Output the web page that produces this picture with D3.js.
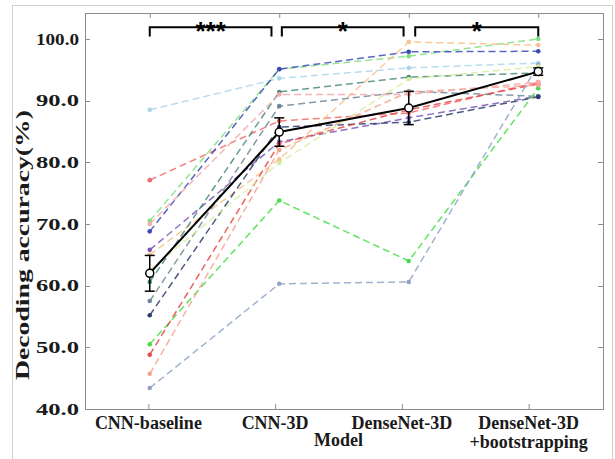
<!DOCTYPE html>
<html>
<head>
<meta charset="utf-8">
<script src="https://cdn.jsdelivr.net/npm/d3@7"></script>
<style>
body{margin:0;background:#fff;}
svg text{font-family:"Liberation Serif","Times New Roman",serif;font-weight:bold;}
</style>
</head>
<body>
<div id="chart"></div>
<script>
// values
var models = ["CNN-baseline", "CNN-3D", "DenseNet-3D", "DenseNet-3D|+bootstrapping"];
var yTicks = [40, 50, 60, 70, 80, 90, 100];

var subjectColors = ["#a9d7ea", "#f26b6b", "#80e080", "#3d4bb6", "#7b58b6", "#f7c28a", "#4a8a7e",
  "#6f8798", "#2c3d6c", "#45df45", "#e64848", "#f2a690", "#8fa4c8", "#d8ed9c", "#f5a9a9"];
var subjectScores = [
  [88.5, 93.6, 95.3, 96.1],
  [77.1, 86.7, 88.0, 93.0],
  [70.5, 95.1, 97.2, 100.0],
  [68.8, 95.1, 97.9, 98.0],
  [65.8, 83.3, 87.2, 90.7],
  [65.0, 80.5, 99.5, 99.0],
  [60.6, 91.4, 93.8, 94.5],
  [57.5, 89.1, 91.5, 90.7],
  [55.2, 85.7, 86.5, 90.6],
  [50.5, 73.8, 64.0, 92.0],
  [48.8, 83.0, 88.5, 92.7],
  [45.7, 82.0, 91.4, 92.5],
  [43.4, 60.3, 60.6, 95.8],
  [62.5, 79.9, 93.5, 95.5],
  [70.0, 91.0, 91.0, 93.0]
];
var meanAcc = [62.0, 84.9, 88.8, 94.7];
var semAcc = [2.9, 2.3, 2.7, 0.6];
var sigFrom = [1, 2.02, 3.05];
var sigTo = [1.94, 2.96, 4];
var sigLabels = ["***", "*", "*"];

var W = 615, H = 459;
var box = {"left": 85, "right": 603, "top": 13, "bottom": 409};

var svg = d3.select("#chart").append("svg")
  .attr("width", W)
  .attr("height", H);

// light figure frame
svg.append("rect")
  .attr("x", 12.5).attr("y", 5.5)
  .attr("width", 600).attr("height", 470)
  .attr("fill", "none").attr("stroke", "#d0d0d0");

var x = d3.scaleLinear().domain([0.5, 4.5]).range([box.left, box.right]);
var xLab = d3.scaleLinear().domain([0.5, 4.5]).range([box.left, 592]);
var y = d3.scaleLinear().domain([40, 104.2]).range([box.bottom, box.top]);
var idx = d3.range(1, models.length + 1);

// axes box with inward ticks
svg.append("rect")
  .attr("x", box.left + 0.5).attr("y", box.top + 0.5)
  .attr("width", box.right - box.left).attr("height", box.bottom - box.top)
  .attr("fill", "none").attr("stroke", "#8c8c8c");

var tickCol = "#8c8c8c";
svg.append("g").selectAll("line").data(idx).enter().append("line")
  .attr("x1", function(d){return xLab(d) + 0.5;}).attr("x2", function(d){return xLab(d) + 0.5;})
  .attr("y1", box.bottom).attr("y2", box.bottom - 5).attr("stroke", tickCol);
svg.append("g").selectAll("line").data(idx).enter().append("line")
  .attr("x1", function(d){return x(d) + 0.5;}).attr("x2", function(d){return x(d) + 0.5;})
  .attr("y1", box.top).attr("y2", box.top + 5).attr("stroke", tickCol);
svg.append("g").selectAll("line").data(yTicks).enter().append("line")
  .attr("x1", box.left).attr("x2", box.left + 5)
  .attr("y1", function(d){return Math.round(y(d)) + 0.5;}).attr("y2", function(d){return Math.round(y(d)) + 0.5;})
  .attr("stroke", tickCol);
svg.append("g").selectAll("line").data(yTicks).enter().append("line")
  .attr("x1", box.right - 5).attr("x2", box.right)
  .attr("y1", function(d){return Math.round(y(d)) + 0.5;}).attr("y2", function(d){return Math.round(y(d)) + 0.5;})
  .attr("stroke", tickCol);

// y tick labels (narrow in the original)
svg.append("g").selectAll("text").data(yTicks).enter().append("text")
  .attr("x", 79).attr("y", function(d){return y(d);})
  .attr("dy", "0.35em")
  .attr("text-anchor", "end")
  .attr("font-size", 16)
  .attr("textLength", 43)
  .attr("lengthAdjust", "spacingAndGlyphs")
  .attr("fill", "#1a1a1a")
  .text(function(d){return d3.format(".1f")(d);});

// x tick labels, one text per line (last label wraps)
var xLines = [];
idx.forEach(function(d){
  models[d - 1].split("|").forEach(function(p, i){
    xLines.push({"pos": d, "row": i, "txt": p});
  });
});
svg.append("g").selectAll("text").data(xLines).enter().append("text")
  .attr("x", function(d){return xLab(d.pos);})
  .attr("y", function(d){return 429 + d.row * 19;})
  .attr("text-anchor", "middle")
  .attr("font-size", 18)
  .attr("fill", "#1a1a1a")
  .text(function(d){return d.txt;});

svg.append("text")
  .attr("x", (box.left + 592) / 2).attr("y", 446)
  .attr("text-anchor", "middle").attr("font-size", 18).attr("fill", "#1a1a1a")
  .text("Model");

svg.append("text")
  .attr("transform", "translate(29,245) rotate(-90)")
  .attr("text-anchor", "middle").attr("font-size", 19)
  .attr("textLength", 270).attr("lengthAdjust", "spacingAndGlyphs")
  .attr("fill", "#1a1a1a")
  .text("Decoding accuracy(%)");

// individual subjects
var line = d3.line()
  .x(function(d, i){return x(i + 1);})
  .y(function(d){return y(d);});

var subj = svg.append("g").selectAll("g").data(subjectScores).enter().append("g");
subj.append("path")
  .attr("d", function(d){return line(d);})
  .attr("fill", "none")
  .attr("stroke", function(d, i){return subjectColors[i];})
  .attr("stroke-width", 1.5)
  .attr("stroke-opacity", 0.85)
  .attr("stroke-dasharray", "7,4");
subj.selectAll("circle").data(function(d, i){return d.map(function(v){return {"v": v, "c": subjectColors[i]};});})
  .enter().append("circle")
  .attr("cx", function(d, i){return x(i + 1);})
  .attr("cy", function(d){return y(d.v);})
  .attr("r", 2.3)
  .attr("fill", function(d){return d.c;});

// group mean +- sem
svg.append("path")
  .attr("d", line(meanAcc))
  .attr("fill", "none").attr("stroke", "#000").attr("stroke-width", 2);

var eb = svg.append("g").selectAll("g").data(meanAcc).enter().append("g");
eb.append("line")
  .attr("x1", function(d, i){return x(i + 1);}).attr("x2", function(d, i){return x(i + 1);})
  .attr("y1", function(d, i){return y(d - semAcc[i]);}).attr("y2", function(d, i){return y(d + semAcc[i]);})
  .attr("stroke", "#000").attr("stroke-width", 1.5);
[-1, 1].forEach(function(s){
  eb.append("line")
    .attr("x1", function(d, i){return x(i + 1) - 5;}).attr("x2", function(d, i){return x(i + 1) + 5;})
    .attr("y1", function(d, i){return y(d + s * semAcc[i]);}).attr("y2", function(d, i){return y(d + s * semAcc[i]);})
    .attr("stroke", "#000").attr("stroke-width", 1.5);
});
eb.append("circle")
  .attr("cx", function(d, i){return x(i + 1);})
  .attr("cy", function(d){return y(d);})
  .attr("r", 4)
  .attr("fill", "#fff").attr("stroke", "#000").attr("stroke-width", 1.5);

// significance brackets
var br = svg.append("g").selectAll("g").data(sigLabels).enter().append("g");
br.append("path")
  .attr("d", function(d, i){
    var a = x(sigFrom[i]), b = x(sigTo[i]), top = y(101.9), leg = y(100.4);
    return "M" + a + "," + leg + "V" + top + "H" + b + "V" + leg;
  })
  .attr("fill", "none").attr("stroke", "#000").attr("stroke-width", 2);
br.append("text")
  .attr("x", function(d, i){return (x(sigFrom[i]) + x(sigTo[i])) / 2;})
  .attr("y", y(101.9) + 13)
  .attr("text-anchor", "middle")
  .attr("font-size", 26)
  .attr("font-weight", "normal")
  .style("font-family", "'Liberation Sans', Arial, sans-serif")
  .attr("fill", "#000")
  .text(function(d){return d;});
</script>
</body>
</html>
